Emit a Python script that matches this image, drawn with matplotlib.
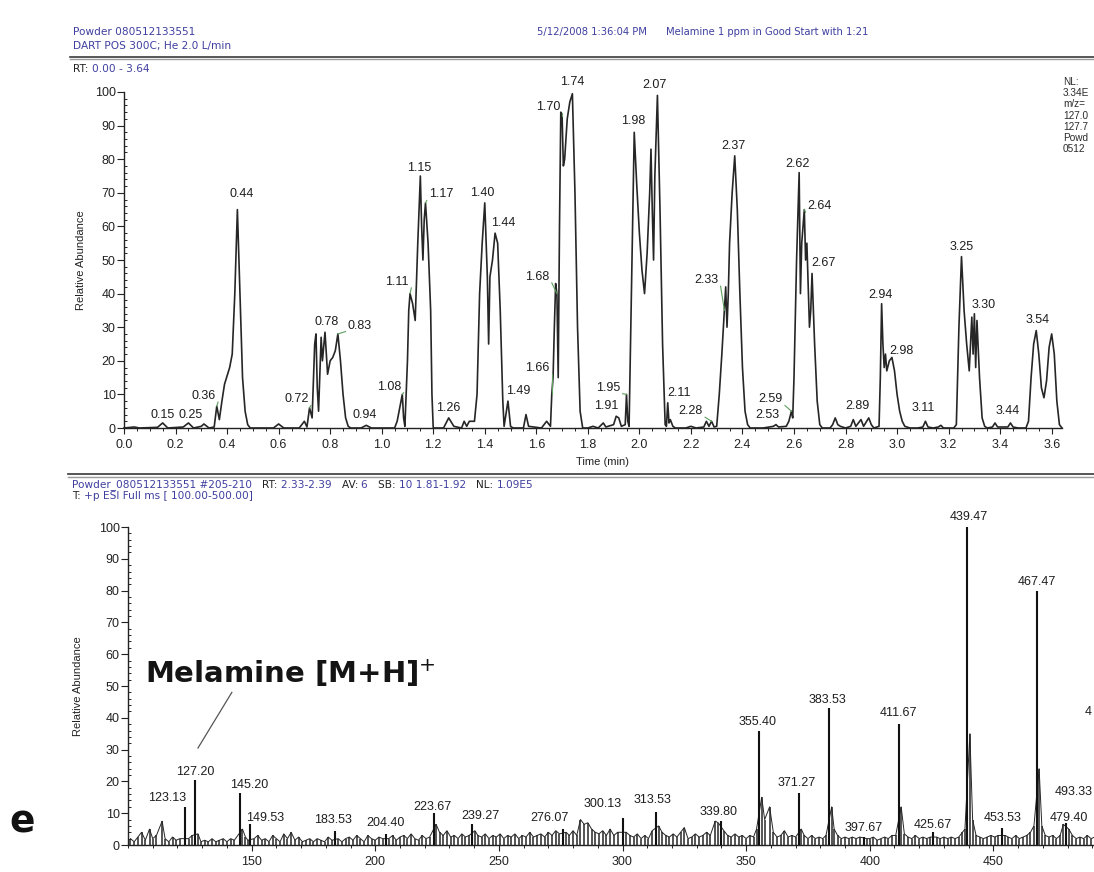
import matplotlib
matplotlib.use("Agg")
import matplotlib.pyplot as plt
from matplotlib.ticker import MultipleLocator
from matplotlib.lines import Line2D

plt.rcParams['font.family'] = ['Liberation Sans', 'DejaVu Sans']

W, H = 1094, 872

# ---------------- data: extracted ion chromatogram (m/z 127) ----------------
chrom_points = [
    (0.00, 0.0), (0.04, 0.3), (0.06, 0.0), (0.13, 0.2), (0.15, 1.5), (0.17, 0.0),
    (0.23, 0.3), (0.25, 1.5), (0.27, 0.0), (0.30, 0.5), (0.31, 1.2), (0.33, 0.0),
    (0.35, 0.3), (0.36, 6.5), (0.37, 2.5), (0.38, 8.0), (0.39, 13.0), (0.40, 15.5),
    (0.41, 18.0), (0.42, 22.0), (0.43, 40.0), (0.44, 65.0), (0.45, 40.0), (0.46, 15.0),
    (0.47, 5.0), (0.48, 1.0), (0.49, 0.0),
    (0.58, 0.0), (0.60, 1.2), (0.62, 0.0), (0.68, 0.0), (0.70, 2.0), (0.71, 0.3),
    (0.72, 6.0), (0.73, 3.0), (0.74, 25.0), (0.745, 28.0), (0.75, 12.0), (0.755, 5.0),
    (0.765, 27.0), (0.77, 20.0), (0.78, 28.5), (0.79, 16.0), (0.80, 20.0), (0.81, 21.0),
    (0.82, 23.0), (0.83, 28.0), (0.84, 20.0), (0.85, 10.0), (0.86, 3.0), (0.87, 0.5),
    (0.88, 0.0),
    (0.92, 0.0), (0.94, 0.8), (0.96, 0.0), (1.05, 0.0), (1.06, 2.0), (1.07, 6.0),
    (1.08, 10.0), (1.085, 3.0), (1.09, 0.5), (1.10, 20.0), (1.105, 35.0), (1.11, 40.0),
    (1.12, 37.0), (1.13, 32.0), (1.14, 55.0), (1.15, 75.0), (1.155, 60.0), (1.16, 50.0),
    (1.165, 62.0), (1.17, 67.0), (1.18, 55.0), (1.19, 35.0), (1.195, 10.0), (1.20, 0.0),
    (1.24, 0.0), (1.26, 3.0), (1.28, 0.5), (1.31, 0.0), (1.32, 2.0), (1.33, 0.5),
    (1.34, 2.0), (1.36, 2.0), (1.37, 10.0), (1.38, 40.0), (1.39, 55.0), (1.40, 67.0),
    (1.41, 45.0), (1.415, 25.0), (1.42, 45.0), (1.43, 50.0), (1.44, 58.0), (1.45, 55.0),
    (1.46, 35.0), (1.47, 8.0), (1.475, 0.5), (1.49, 8.0), (1.50, 0.5), (1.51, 0.0),
    (1.55, 0.0), (1.56, 4.0), (1.57, 0.5), (1.62, 0.0), (1.64, 2.0), (1.655, 0.5),
    (1.66, 10.0), (1.665, 15.0), (1.67, 30.0), (1.675, 43.0), (1.68, 40.0), (1.685, 15.0),
    (1.69, 60.0), (1.695, 94.0), (1.70, 93.0), (1.705, 78.0), (1.71, 80.0), (1.72, 92.0),
    (1.73, 97.0), (1.74, 99.5), (1.75, 70.0), (1.76, 30.0), (1.77, 5.0), (1.78, 0.0),
    (1.80, 0.0), (1.82, 0.5), (1.84, 0.0), (1.86, 1.5), (1.87, 0.3), (1.90, 1.0),
    (1.91, 3.5), (1.92, 3.0), (1.93, 0.5), (1.945, 1.0), (1.95, 10.0), (1.955, 2.0),
    (1.96, 0.5), (1.97, 45.0), (1.98, 88.0), (1.99, 72.0), (2.00, 58.0), (2.01, 47.0),
    (2.02, 40.0), (2.03, 52.0), (2.04, 70.0), (2.045, 83.0), (2.05, 65.0), (2.055, 50.0),
    (2.06, 75.0), (2.07, 99.0), (2.08, 65.0), (2.09, 25.0), (2.10, 1.0), (2.105, 0.5),
    (2.11, 7.5), (2.115, 1.5), (2.12, 2.5), (2.13, 0.5), (2.14, 0.0),
    (2.18, 0.0), (2.20, 0.5), (2.22, 0.0), (2.25, 0.3), (2.26, 2.0), (2.27, 0.5),
    (2.28, 2.0), (2.29, 0.3), (2.30, 0.5), (2.31, 10.0), (2.32, 22.0), (2.33, 35.0),
    (2.335, 42.0), (2.34, 30.0), (2.345, 40.0), (2.35, 55.0), (2.36, 70.0), (2.37, 81.0),
    (2.38, 65.0), (2.39, 40.0), (2.40, 18.0), (2.41, 5.0), (2.42, 1.0), (2.43, 0.0),
    (2.48, 0.0), (2.52, 0.5), (2.53, 1.0), (2.54, 0.3), (2.57, 0.5), (2.58, 2.0),
    (2.59, 5.0), (2.595, 3.0), (2.60, 15.0), (2.61, 50.0), (2.62, 76.0), (2.625, 40.0),
    (2.63, 55.0), (2.64, 65.0), (2.645, 50.0), (2.65, 55.0), (2.66, 30.0), (2.665, 35.0),
    (2.67, 46.0), (2.68, 25.0), (2.69, 8.0), (2.70, 1.0), (2.71, 0.0),
    (2.74, 0.0), (2.75, 1.0), (2.76, 3.0), (2.77, 1.0), (2.78, 0.5), (2.80, 0.0),
    (2.82, 0.5), (2.83, 2.5), (2.84, 0.5), (2.86, 2.5), (2.87, 0.5), (2.89, 3.0),
    (2.90, 1.0), (2.91, 0.0), (2.93, 0.5), (2.935, 15.0), (2.94, 37.0), (2.945, 25.0),
    (2.95, 18.0), (2.955, 22.0), (2.96, 17.0), (2.97, 20.0), (2.98, 21.0), (2.99, 17.0),
    (3.00, 10.0), (3.01, 5.0), (3.02, 2.0), (3.03, 0.5), (3.05, 0.0),
    (3.08, 0.0), (3.10, 0.3), (3.11, 2.0), (3.12, 0.3), (3.14, 0.0), (3.16, 0.3),
    (3.17, 0.8), (3.18, 0.0), (3.22, 0.0), (3.23, 1.0), (3.24, 30.0), (3.25, 51.0),
    (3.26, 35.0), (3.27, 25.0), (3.28, 17.0), (3.285, 25.0), (3.29, 33.0), (3.295, 22.0),
    (3.30, 34.0), (3.305, 18.0), (3.31, 32.0), (3.32, 15.0), (3.33, 3.0), (3.34, 0.5),
    (3.35, 0.0), (3.37, 0.3), (3.38, 1.5), (3.39, 0.3), (3.43, 0.3), (3.44, 1.5),
    (3.45, 0.3), (3.47, 0.0), (3.50, 0.0), (3.51, 2.0), (3.52, 15.0), (3.53, 25.0),
    (3.54, 29.0), (3.55, 22.0), (3.56, 12.0), (3.57, 9.0), (3.58, 14.0), (3.59, 24.0),
    (3.60, 28.0), (3.61, 22.0), (3.62, 8.0), (3.63, 1.0), (3.64, 0.0),
]
chrom_time = [p[0] for p in chrom_points]
chrom_abund = [p[1] for p in chrom_points]

# labelled chromatogram peaks (retention time, apex abundance)
rt_peaks = [
    (0.15, 1.5), (0.25, 1.5), (0.36, 6.5), (0.44, 65.0), (0.72, 6.0), (0.78, 28.5),
    (0.83, 28.0), (0.94, 0.8), (1.08, 10.0), (1.11, 40.0), (1.15, 75.0), (1.17, 67.0),
    (1.26, 3.0), (1.40, 67.0), (1.44, 58.0), (1.49, 8.0), (1.66, 10.0), (1.68, 40.0),
    (1.70, 93.0), (1.74, 99.5), (1.91, 3.5), (1.95, 10.0), (1.98, 88.0), (2.07, 99.0),
    (2.11, 7.5), (2.28, 2.0), (2.33, 35.0), (2.37, 81.0), (2.53, 1.0), (2.59, 5.0),
    (2.62, 76.0), (2.64, 65.0), (2.67, 46.0), (2.89, 3.0), (2.94, 37.0), (2.98, 21.0),
    (3.11, 2.0), (3.25, 51.0), (3.30, 34.0), (3.44, 1.5), (3.54, 29.0),
]
# text centre of each retention-time label (layout)
rt_label_pos = [
    (0.15, 4.0), (0.26, 4.0), (0.31, 9.5), (0.455, 69.5), (0.67, 8.5), (0.787, 31.5),
    (0.915, 30.5), (0.934, 3.8), (1.03, 12.3), (1.06, 43.5), (1.145, 77.5), (1.23, 69.5),
    (1.26, 6.0), (1.39, 70.0), (1.47, 61.0), (1.53, 11.0), (1.605, 18.0), (1.605, 45.0),
    (1.645, 95.5), (1.74, 103.0), (1.87, 6.4), (1.88, 12.0), (1.975, 91.5), (2.06, 102.0),
    (2.155, 10.3), (2.20, 5.0), (2.26, 44.0), (2.365, 84.0), (2.495, 4.0), (2.51, 8.5),
    (2.615, 78.5), (2.70, 66.0), (2.715, 49.0), (2.845, 6.4), (2.935, 39.5), (3.015, 23.0),
    (3.10, 6.0), (3.25, 54.0), (3.335, 36.5), (3.43, 5.0), (3.545, 32.0),
]

# ---------------- data: averaged mass spectrum ----------------
ms_peaks = [
    (123.13, 12.0), (127.20, 20.5), (145.20, 16.5), (149.53, 6.5), (183.53, 4.5),
    (204.40, 3.5), (223.67, 10.0), (239.27, 6.5), (276.07, 5.0), (300.13, 8.5),
    (313.53, 10.5), (339.80, 7.5), (355.40, 36.0), (371.27, 16.5), (383.53, 43.0),
    (397.67, 2.5), (411.67, 38.0), (425.67, 4.0), (439.47, 100.0), (453.53, 5.5),
    (467.47, 80.0), (479.40, 7.0), (493.33, 14.0),
]
ms_label_pos = [
    (115.9, 14.7), (127.0, 23.0), (149.0, 19.0), (155.5, 8.4), (183.0, 7.9),
    (204.0, 6.8), (223.0, 12.0), (242.7, 9.0), (270.4, 8.4), (292.0, 13.0),
    (312.3, 14.0), (339.0, 10.5), (354.8, 38.7), (370.6, 19.4), (383.0, 45.5),
    (397.4, 5.2), (411.8, 41.4), (425.4, 6.3), (440.0, 103.0), (453.8, 8.4),
    (467.4, 82.7), (480.4, 8.4), (490.0, 16.8),
]
# a further peak whose stick lies past the right edge; only the first digit of its
# label is visible in the picture
ms_offscreen_peak = (497.40, 39.0)
ms_offscreen_label = '4'

ms_noise = [
    (101, 2), (102.5, 1), (104, 2.5), (105.5, 4), (107, 1.5), (108.7, 5), (110, 2),
    (111.5, 3), (113.8, 7.5), (115, 2), (116.5, 1), (118, 2.5), (119.5, 1.5), (121, 2),
    (124.5, 2), (126, 3), (128.3, 3.5), (129.5, 1), (131, 1.5), (132.5, 1), (134, 2),
    (135.5, 1), (137, 1.5), (138.5, 2), (140, 1), (141.5, 2), (143, 1.5), (146.3, 5),
    (147.5, 2.5), (148.5, 1.5),
    (151, 2), (152.5, 3), (154, 1.5), (155.5, 2), (157, 1), (158.5, 3), (160, 2),
    (161.5, 1), (163, 3.5), (164.5, 2), (166, 4), (167.5, 1.5), (169, 2.5), (170.5, 1),
    (172, 1.5), (173.5, 2), (175, 1), (176.5, 2), (178, 1.5), (179.5, 1), (181, 2.5),
    (182.5, 1.5), (185, 2), (186.5, 1), (188, 2), (189.5, 2.5), (191, 1.5), (192.5, 3),
    (194, 2), (195.5, 1), (197, 3), (198.5, 2),
    (200, 1.5), (201.5, 2.5), (203, 2), (205.5, 2), (207, 3), (208.5, 1.5), (210, 2.5),
    (211.5, 3), (213, 2), (214.5, 3.5), (216, 2), (217.5, 1.5), (219, 3), (220.5, 2),
    (222, 2.5), (224.6, 6.5), (226, 4), (227.5, 3), (229, 4.5), (230.5, 2.5), (232, 3),
    (233.5, 2), (235, 3.5), (236.5, 2.5), (238, 3), (240.3, 4.5), (241.5, 3), (243, 2.5),
    (244.5, 3.5), (246, 2), (247.5, 3), (249, 2.5),
    (250.5, 3.5), (252, 2), (253.5, 3), (255, 2.5), (256.5, 3.5), (258, 2), (259.5, 3),
    (261, 2.5), (262.5, 4), (264, 2.5), (265.5, 3), (267, 3.5), (268.5, 2.5), (270, 4),
    (271.5, 3), (273, 4.5), (274.5, 3.5), (277.2, 4), (278.5, 3), (280, 4.5), (281.5, 3),
    (283, 8), (284.5, 6.5), (286, 7), (287.5, 5), (289, 4), (290.5, 3.5), (292, 4.5),
    (293.5, 3), (295, 5), (296.5, 3), (298, 4),
    (301.5, 4), (303, 3), (304.5, 2.5), (306, 3.5), (307.5, 2), (309, 3), (310.5, 2),
    (312, 4.5), (314.6, 6), (316, 4), (317.5, 3), (319, 2.5), (320.5, 3.5), (322, 2.5),
    (323.5, 4), (325, 5.5), (326.5, 2), (328, 2.5), (329.5, 3.5), (331, 2.5), (332.5, 3),
    (334, 4), (335.5, 3), (337.5, 7.5), (338.7, 7), (341, 4.5), (342.5, 3), (344, 2.5),
    (345.5, 3.5), (347, 2.5), (348.5, 3),
    (350, 2), (351.5, 3), (353, 2.5), (354.2, 5), (356.3, 15), (357.5, 8), (359.5, 12),
    (361, 4), (362.5, 2.5), (364, 3), (365.5, 4.5), (367, 2.5), (368.5, 3), (370, 2.5),
    (372.3, 5), (373.5, 3), (375, 2), (376.5, 3), (378, 2), (379.5, 2.5), (381, 2),
    (382.3, 3), (384.6, 12), (385.6, 5), (387, 3), (388.5, 2), (390, 2.5), (391.5, 2),
    (393, 2.5), (394.5, 2), (396, 2.5), (398.8, 2),
    (400, 2), (401.5, 2.5), (403, 1.5), (404.5, 2), (406, 2.5), (407.5, 2), (409, 3),
    (410.5, 3), (412.7, 12), (414, 3.5), (415.5, 2.5), (417, 2), (418.5, 3), (420, 2),
    (421.5, 2.5), (423, 2), (424.5, 2.5), (427, 2.5), (428.5, 2), (430, 2.5), (431.5, 2),
    (433, 2.5), (434.5, 2), (436, 2.5), (437.5, 4), (438.5, 5), (440.5, 35), (441.6, 8),
    (443, 3), (444.5, 2.5), (446, 2), (447.5, 2.5), (449, 3),
    (450.5, 2.5), (452, 3), (454.8, 3), (456, 2.5), (457.5, 2), (459, 3), (460.5, 2),
    (462, 2.5), (463.5, 3), (465, 4), (466.4, 6), (468.5, 24), (469.6, 6), (471, 3),
    (472.5, 2.5), (474, 3), (475.5, 2), (477, 3), (478.3, 6.5), (480.5, 5), (482, 3),
    (483.5, 2), (485, 2.5), (486.5, 2), (488, 3), (489.5, 2), (491, 2.5), (492.3, 3),
    (494.5, 4), (496, 3), (497.5, 2.5),
]

y_ticks = [0, 10, 20, 30, 40, 50, 60, 70, 80, 90, 100]
rt_ticks = [0.0, 0.2, 0.4, 0.6, 0.8, 1.0, 1.2, 1.4, 1.6, 1.8, 2.0, 2.2, 2.4, 2.6, 2.8, 3.0, 3.2, 3.4, 3.6]
mz_ticks = [150, 200, 250, 300, 350, 400, 450]

# visible part of the trace-info block at the right edge of the chromatogram
trace_info = ['NL:', '3.34E', 'm/z=', '127.0', '127.7', 'Powd', '0512']

# ---------------- styling ----------------
BLUE = '#3f3fa0'
GREEN = '#5e9e5e'
LINE = '#262626'
FS = 9
HEADER_FONT = ['DejaVu Sans']


def fx(x):
    return x / W


def fy(y):
    return 1 - y / H


def axes_px(left, top, right, bottom):
    return [fx(left), fy(bottom), (right - left) / W, (bottom - top) / H]


fig = plt.figure(figsize=(W / 100, H / 100), dpi=100)
fig.patch.set_facecolor('white')


def style_axes(ax):
    for s in ('top', 'right'):
        ax.spines[s].set_visible(False)
    for s in ('left', 'bottom'):
        ax.spines[s].set_linewidth(1.0)
        ax.spines[s].set_color('#222222')
    ax.set_yticks(y_ticks)
    ax.yaxis.set_minor_locator(MultipleLocator(2))
    ax.tick_params(axis='y', which='major', length=5, width=0.8, direction='out',
                   labelsize=FS, pad=1.0, colors='#222222')
    ax.tick_params(axis='y', which='minor', length=2.5, width=0.6, direction='in')
    ax.tick_params(axis='x', which='major', length=4, width=0.8, direction='out',
                   labelsize=FS, pad=4.0, colors='#222222')
    ax.tick_params(axis='x', which='minor', length=2.5, width=0.6, direction='out')
    ax.set_facecolor('none')


# ---------------- top: chromatogram ----------------
ax1 = fig.add_axes(axes_px(124, 92, 1062, 428))
style_axes(ax1)
ax1.plot(chrom_time, chrom_abund, color=LINE, lw=1.2, clip_on=False, zorder=3)
ax1.set_xlim(0, 3.64)
ax1.set_ylim(0, 100)
ax1.set_xticks(rt_ticks)
ax1.set_xticklabels([f"{t:.1f}" for t in rt_ticks])
ax1.xaxis.set_minor_locator(MultipleLocator(0.05))
ax1.set_ylabel('Relative Abundance', fontsize=8, color='#222222')
ax1.yaxis.set_label_coords(-0.040, 0.5)
ax1.set_xlabel('Time (min)', fontsize=8, color='#222222')
ax1.xaxis.set_label_coords(0.51, -0.085)

for (t, v), (lx, ly) in zip(rt_peaks, rt_label_pos):
    ax1.text(lx, ly, f"{t:.2f}", fontsize=FS, ha='center', va='center',
             color='#1e1e1e', zorder=5)
    dx = t - lx
    if abs(dx) > 0.045:
        sx = lx + (0.055 if dx > 0 else -0.055)
        ax1.add_line(Line2D([sx, t], [ly - 1.8, v], color=GREEN, lw=0.8,
                            clip_on=False, zorder=4))

# ---------------- bottom: mass spectrum ----------------
ax2 = fig.add_axes(axes_px(128, 527, 1117, 845))
style_axes(ax2)
noise_mz = [m for m, _ in ms_noise]
noise_h = [h for _, h in ms_noise]
ax2.vlines(noise_mz, 0, noise_h, color=LINE, lw=1.1, zorder=3)
ax2.plot(noise_mz, noise_h, color=LINE, lw=0.7, zorder=3)
ax2.vlines([m for m, _ in ms_peaks] + [ms_offscreen_peak[0]], 0,
           [h for _, h in ms_peaks] + [ms_offscreen_peak[1]],
           color='#111111', lw=1.5, zorder=3, clip_on=False)
ax2.set_xlim(100, 500)
ax2.set_ylim(0, 100)
ax2.set_xticks(mz_ticks)
ax2.xaxis.set_minor_locator(MultipleLocator(10))
ax2.set_ylabel('Relative Abundance', fontsize=8, color='#222222')
ax2.yaxis.set_label_coords(-0.046, 0.5)
for i, ((m, h), (lx, ly)) in enumerate(zip(ms_peaks, ms_label_pos)):
    last = i == len(ms_peaks) - 1
    ax2.text(lx, ly, f"{m:.2f}", fontsize=FS, ha='right' if last else 'center',
             va='center', color='#1e1e1e', zorder=5)
fig.text(fx(1085), fy(712), ms_offscreen_label, fontsize=FS, ha='left', va='center',
         color='#1e1e1e')

# annotation of the melamine ion
ax2.text(107, 54, 'Melamine [M+H]$^{+}$', fontsize=21, fontweight='bold',
         family=['DejaVu Sans'], ha='left', va='center', color='#141414')
ax2.add_line(Line2D([128.3, 142.0], [30.5, 48.0], color='#555555', lw=0.9,
                    clip_on=False))

# panel letter
fig.text(fx(9), fy(832), 'e', fontsize=27, fontweight='bold',
         family=['DejaVu Sans'], ha='left', va='baseline', color='#111111')

# ---------------- headers ----------------


def chained(x, y, parts, size):
    t = fig.text(fx(x), fy(y), parts[0][0], color=parts[0][1], fontsize=size,
                 family=HEADER_FONT, ha='left', va='bottom')
    for s, c in parts[1:]:
        t = fig.add_artist(matplotlib.text.Annotation(
            s, xy=(1, 0), xycoords=t, va='bottom', ha='left', color=c,
            fontsize=size, family=HEADER_FONT))
    return t


chained(73, 37, [('Powder 080512133551', BLUE)], 7.6)
chained(73, 51, [('DART POS 300C; He 2.0 L/min', BLUE)], 7.6)
chained(537, 37, [('5/12/2008 1:36:04 PM', BLUE)], 7.2)
chained(666, 37, [('Melamine 1 ppm in Good Start with 1:21', BLUE)], 7.2)
chained(73, 74, [('RT: ', '#222222'), ('0.00 - 3.64', BLUE)], 7.6)

fig.add_artist(Line2D([fx(70), fx(1094)], [fy(57), fy(57)], color='#3a3a3a', lw=1.2))
fig.add_artist(Line2D([fx(70), fx(1094)], [fy(59.5), fy(59.5)], color='#9a9a9a', lw=1.0))
fig.add_artist(Line2D([fx(68), fx(1094)], [fy(474), fy(474)], color='#3a3a3a', lw=1.2))
fig.add_artist(Line2D([fx(68), fx(1094)], [fy(476.5), fy(476.5)], color='#9a9a9a', lw=1.0))

chained(72, 490, [('Powder_080512133551 #205-210   ', BLUE), ('RT: ', '#222222'),
                  ('2.33-2.39   ', BLUE), ('AV: ', '#222222'), ('6   ', BLUE),
                  ('SB: ', '#222222'), ('10 1.81-1.92   ', BLUE), ('NL: ', '#222222'),
                  ('1.09E5', BLUE)], 7.6)
chained(72, 501, [('T: ', '#222222'), ('+p ESI Full ms [ 100.00-500.00]', BLUE)], 7.6)

fig.text(fx(1063), fy(77), '\n'.join(trace_info), fontsize=7.2, color='#2a2a2a',
         ha='left', va='top', linespacing=1.15)

fig.savefig('out.png', dpi=100, facecolor='white')
